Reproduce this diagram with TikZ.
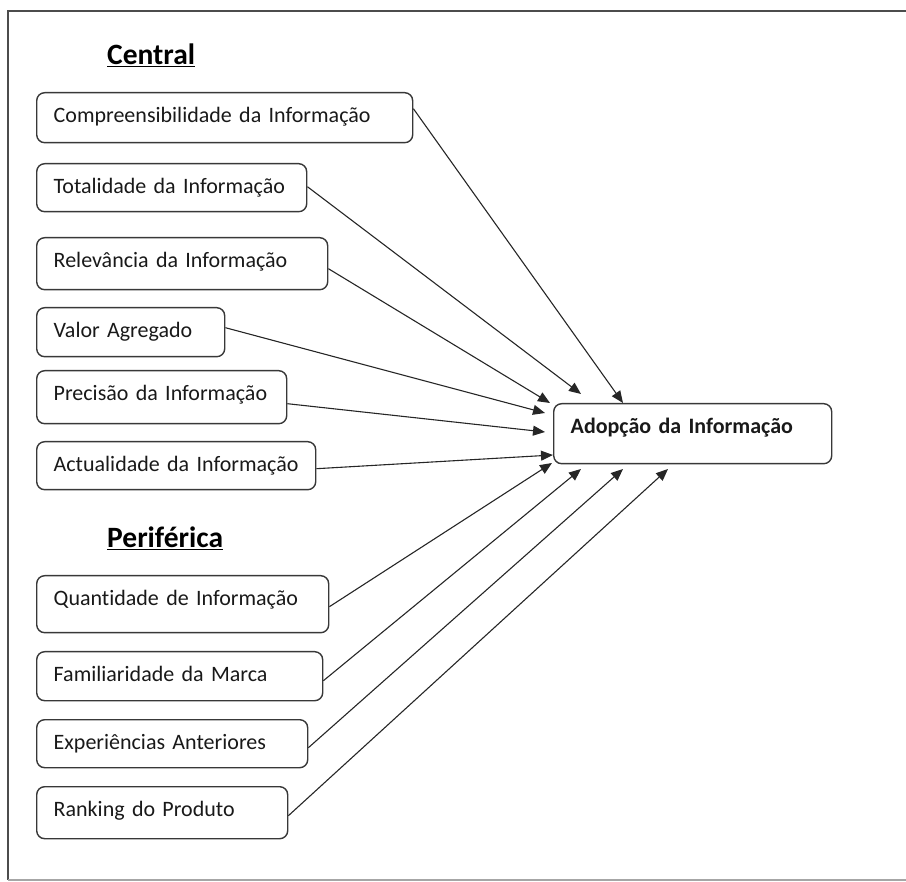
\documentclass[tikz,border=0pt]{standalone}
\usepackage{fontspec}
\setmainfont[WordSpace=0.55,Ligatures=NoCommon]{Carlito}
\usetikzlibrary{arrows.meta}
\tikzset{
  box/.style={draw=black!78, line width=1.4pt, rounded corners=8pt, anchor=north west,
    inner xsep=17pt, inner ysep=0pt, align=left, text height=30pt,
    font=\fontsize{22}{26}\selectfont, text=black!90},
  ttl/.style={font=\bfseries\fontsize{29.5}{34}\selectfont, anchor=base west, inner sep=0pt},
  conn/.style={draw=black!85, line width=1.1pt, -{Triangle[length=12pt,width=10pt]}},
  frame/.style={draw=black!70, line width=1.3pt}
}
\begin{document}
\begin{tikzpicture}[x=1pt,y=-1pt]
\useasboundingbox (0,0) rectangle (906,882);
\coordinate (ftr) at (906,11);
\coordinate (ftl) at (8,11);
\coordinate (fbl) at (8,880);
\coordinate (fbr) at (906,880);
\draw[frame] (ftr) -- (ftl) -- (fbl);
\draw[draw=black!35, line width=1.3pt] (fbl) -- (fbr);

\node[ttl] (tcen) at (107,65) {\underline{Central}};
\node[ttl] (tper) at (107,548) {\underline{Periférica}};

\node[box, text width=342pt, text depth=20pt] (b1) at (36,92) {Compreensibilidade da Informação};
\node[box, text width=236pt, text depth=18pt] (b2) at (36,163) {Totalidade da Informação};
\node[box, text width=257pt, text depth=22pt] (b3) at (36,237) {Relevância da Informação};
\node[box, text width=154pt, text depth=19pt] (b4) at (36,307) {Valor Agregado};
\node[box, text width=216pt, text depth=23pt] (b5) at (36,370) {Precisão da Informação};
\node[box, text width=245pt, text depth=18pt] (b6) at (36,441) {Actualidade da Informação};
\node[box, text width=258pt, text depth=27pt] (b7) at (36,575) {Quantidade de Informação};
\node[box, text width=252pt, text depth=19pt] (b8) at (36,651) {Familiaridade da Marca};
\node[box, text width=237pt, text depth=18pt] (b9) at (36,719) {Experiências Anteriores};
\node[box, text width=217pt, text depth=22pt] (b10) at (36,786) {Ranking do Produto};

\node[box, text width=244pt, text depth=30pt, font=\bfseries\fontsize{22}{26}\selectfont] (ad) at (553,403) {Adopção da Informação};

\draw[conn] ([yshift=9pt]b1.east) -- ([xshift=70pt]ad.north west);
\draw[conn] ([yshift=1pt]b2.east) -- ([xshift=28pt,yshift=9pt]ad.north west);
\draw[conn] ([yshift=-5pt]b3.east) -- ([xshift=-3pt]ad.north west);
\draw[conn] ([yshift=4.5pt]b4.east) -- ([xshift=-8pt,yshift=-10pt]ad.north west);
\draw[conn] ([yshift=-6.5pt]b5.east) -- ([xshift=-8pt,yshift=-29pt]ad.north west);
\draw[conn] ([yshift=-3pt]b6.east) -- ([xshift=0pt,yshift=-52pt]ad.north west);
\draw[conn] ([yshift=-2.5pt]b7.east) -- ([xshift=-1pt,yshift=-60pt]ad.north west);
\draw[conn] ([yshift=-4.5pt]b8.east) -- ([xshift=28pt,yshift=-66pt]ad.north west);
\draw[conn] ([yshift=-4pt]b9.east) -- ([xshift=70pt,yshift=-66pt]ad.north west);
\draw[conn] ([yshift=-3pt]b10.east) -- ([xshift=115pt,yshift=-66pt]ad.north west);
\end{tikzpicture}
\end{document}
